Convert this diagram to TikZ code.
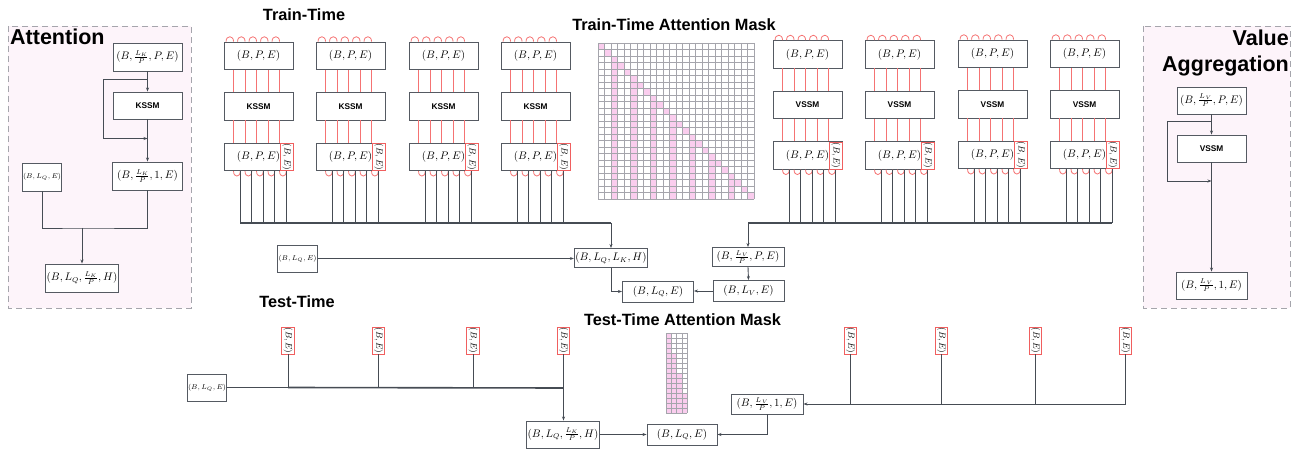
\documentclass[tikz,border=0pt]{standalone}
\usepackage{fontspec}
\usepackage{graphicx}
\newfontfamily\hfont{Liberation Sans}
\usetikzlibrary{arrows.meta,calc}
\definecolor{boxc}{RGB}{85,90,98}
\definecolor{connc}{RGB}{70,76,84}
\definecolor{redlc}{RGB}{245,115,115}
\definecolor{redbc}{RGB}{240,95,95}
\definecolor{pinkc}{RGB}{250,205,238}
\definecolor{gridc}{RGB}{165,165,172}
\definecolor{panelc}{RGB}{253,244,250}
\definecolor{dashc}{RGB}{165,165,172}
\newcommand{\LVfrac}{\frac{L_{\mkern2mu V}}{P}}
\begin{document}
\begin{tikzpicture}[x=1pt,y=-1pt,
  box/.style={draw=boxc, line width=0.9pt, fill=white, inner sep=1pt, font=\fontsize{10.6}{12}\selectfont},
  smallbox/.style={box, font=\fontsize{7}{8}\selectfont},
  ssm/.style={box, font=\hfont\bfseries\fontsize{8.3}{10}\selectfont},
  redbox/.style={draw=redbc, line width=0.8pt, fill=white, inner sep=0pt, minimum width=12.5pt, minimum height=27pt},
  conn/.style={draw=connc, line width=0.9pt},
  arr/.style={conn, -{Stealth[length=4pt,width=3pt]}},
  bus/.style={draw=connc, line width=1.6pt},
  redl/.style={draw=redlc, line width=0.8pt},
  title/.style={font=\hfont\bfseries\fontsize{16.3}{19}\selectfont, inner sep=0pt},
  ptitle/.style={font=\hfont\bfseries\fontsize{21.5}{25}\selectfont, inner sep=0pt},
  panel/.style={draw=dashc, fill=panelc, line width=0.9pt, dash pattern=on 6pt off 4pt}
]
\useasboundingbox (0,0) rectangle (1299,449);

% ---------- panels ----------
\draw[panel] (8,26) rectangle (191,308);
\draw[panel] (1143,26) rectangle (1290,308);
\node[ptitle, anchor=base west] (attT) at (10,45) {Attention};
\node[ptitle, anchor=base east] (valT) at (1289,46) {Value};
\node[ptitle, anchor=base east] (aggT) at (1289,71.5) {Aggregation};

% ---------- Attention panel ----------
\node[box, minimum width=69pt, minimum height=28pt] (a1) at (147.5,57) {$(B,\frac{L_K}{P},P,E)$};
\node[ssm, minimum width=69pt, minimum height=27pt] (a2) at (147.5,105.5) {KSSM};
\node[box, minimum width=70pt, minimum height=28pt] (a3) at (147.5,176) {$(B,\frac{L_K}{P},1,E)$};
\node[smallbox, minimum width=38pt, minimum height=28pt] (a4) at (42,177) {$(B,L_Q,E)$};
\node[box, minimum width=70pt, minimum height=28pt] (a5) at (82,278) {$(B,L_Q,\frac{L_K}{P},H)$};
\draw[arr] (a1.south) -- (a2.north);
\coordinate (as1) at (147.5,79.5);
\coordinate (as2) at (147.5,138.5);
\draw[arr] (as1) -- ++(-44,0) |- (as2);
\draw[arr] (a2.south) -- (a3.north);
\coordinate (am) at (82,228);
\draw[conn] (a4.south) |- (am) -| (a3.south);
\draw[arr] (am) -- (a5.north);

% ---------- Value aggregation panel ----------
\node[box, minimum width=69pt, minimum height=27pt] (v1) at (1211.5,100.5) {$(B,\LVfrac,P,E)$};
\node[ssm, minimum width=69pt, minimum height=27pt] (v2) at (1211.5,148.5) {VSSM};
\node[box, minimum width=71pt, minimum height=27pt] (v3) at (1211.5,285.5) {$(B,\LVfrac,1,E)$};
\draw[arr] (v1.south) -- (v2.north);
\coordinate (vs1) at (1211.5,121.5);
\coordinate (vs2) at (1211.5,181);
\draw[arr] (vs1) -- ++(-44.5,0) |- (vs2);
\draw[arr] (v2.south) -- (v3.north);

% ---------- titles ----------
\node[title, anchor=base] (trT) at (304,20.5) {Train-Time};
\node[title, anchor=base] (trM) at (674,30.5) {Train-Time Attention Mask};
\node[title, anchor=base] (teT) at (297,307.5) {Test-Time};
\node[title, anchor=base] (teM) at (682.5,325) {Test-Time Attention Mask};

% ---------- train columns ----------
\coordinate (busL) at (611,223);
\foreach \i/\x/\dy/\lab in {1/224/0/KSSM, 2/316/0/KSSM, 3/409/0/KSSM, 4/501/0/KSSM, 5/773/-1.5/VSSM, 6/865/-1.5/VSSM, 7/958/-2/VSSM, 8/1050/-2/VSSM} {
  \node[box, minimum width=69pt, minimum height=27.5pt] (t\i) at (\x+34.5,55.8+\dy) {$(B,P,E)$};
  \node[ssm, minimum width=69pt, minimum height=27.5pt] (m\i) at (\x+34.5,106.3+\dy) {\lab};
  \node[box, minimum width=69pt, minimum height=27.5pt] (b\i) at (\x+34.5,157+\dy) {$(B,P,E)$};
  \node[redbox, anchor=east] (r\i) at (b\i.east) {\rotatebox{-90}{\fontsize{9.2}{10}\selectfont$(B,E)$}};
  \foreach \k in {0,...,4} {
    \pgfmathsetmacro\o{10+11.5*\k}
    \draw[redl] ([xshift=\o pt]t\i.south west) -- ([xshift=\o pt]m\i.north west);
    \draw[redl] ([xshift=\o pt]m\i.south west) -- ([xshift=\o pt]b\i.north west);
    \draw[redl] ([xshift=\o pt-7.5pt]t\i.north west) .. controls +(0pt,6.5pt) and +(0pt,6.5pt) .. ([xshift=\o pt]t\i.north west);
    \draw[redl] ([xshift=\o pt]b\i.south west) .. controls +(0pt,-6.5pt) and +(0pt,-6.5pt) .. ([xshift=\o pt+6.7pt]b\i.south west);
    \coordinate (d\i-\k) at ([xshift=\o pt+6.7pt]b\i.south west);
    \draw[conn] (d\i-\k) -- (d\i-\k |- busL);
  }
}

% ---------- middle train nodes ----------
\node[smallbox, minimum width=39pt, minimum height=27pt] (lq) at (297.5,258.5) {$(B,L_Q,E)$};
\node[box, minimum width=72pt, minimum height=19pt] (kh) at (611,258) {$(B,L_Q,L_K,H)$};
\node[box, minimum width=71pt, minimum height=21pt] (lqe) at (658,291.5) {$(B,L_Q,E)$};
\node[box, minimum width=72pt, minimum height=19pt] (vpe) at (748,257) {$(B,\LVfrac,P,E)$};
\node[box, minimum width=71pt, minimum height=21pt] (lve) at (748.5,291) {$(B,L_V,E)$};

\draw[bus] (d1-0 |- busL) -- (busL);
\draw[arr] (busL) -- (kh.north);
\draw[bus] (vpe.north |- busL) -- (d8-4 |- busL);
\draw[arr] (vpe.north |- busL) -- (vpe.north);
\draw[arr] (lq.east) -- (lq.east -| kh.west);
\draw[arr] (kh.south) |- (lqe.west);
\draw[arr] (vpe.south) -- (lve.north);
\draw[arr] (lve.west) -- (lve.west -| lqe.east);

% ---------- train mask ----------
\foreach \r in {0,...,23} \fill[pinkc] (598+\r*6.5,43+\r*6.5) rectangle ++(6.5,6.5);
\foreach \c in {2,5,...,20} \fill[pinkc] (598+\c*6.5,43+\c*6.5) rectangle (604.5+\c*6.5,199);
\foreach \k in {0,...,24} {
  \draw[gridc, line width=0.45pt] (598+\k*6.5,43) -- (598+\k*6.5,199);
  \draw[gridc, line width=0.45pt] (598,43+\k*6.5) -- (754,43+\k*6.5);
}

% ---------- test mask ----------
\fill[pinkc] (666,333) rectangle (671.25,413);
\foreach \c in {1,2,3} \fill[pinkc] (666+\c*5.25,333+\c*20) rectangle (671.25+\c*5.25,413);
\foreach \k in {0,...,4} \draw[gridc, line width=0.45pt] (666+\k*5.25,333) -- (666+\k*5.25,413);
\foreach \k in {0,...,16} \draw[gridc, line width=0.45pt] (666,333+\k*5) -- (687,333+\k*5);

% ---------- test nodes ----------
\node[smallbox, minimum width=38pt, minimum height=27pt] (tl) at (207,387.5) {$(B,L_Q,E)$};
\node[box, minimum width=70pt, minimum height=27pt] (tkh) at (563,434.5) {$(B,L_Q,\frac{L_K}{P},H)$};
\node[box, minimum width=70pt, minimum height=21pt] (tqe) at (682,434.5) {$(B,L_Q,E)$};
\node[box, minimum width=72pt, minimum height=20pt] (tvp) at (767,404) {$(B,\LVfrac,1,E)$};
\foreach \j/\x in {1/288, 2/378.5, 3/473, 4/563.5} {
  \node[redbox] (tr\j) at (\x,340.5) {\rotatebox{-90}{\fontsize{9.2}{10}\selectfont$(B,E)$}};
}
\foreach \j/\x in {1/850.5, 2/941.5, 3/1035.5, 4/1125.5} {
  \node[redbox] (trr\j) at (\x,340.5) {\rotatebox{-90}{\fontsize{9.2}{10}\selectfont$(B,E)$}};
}
\coordinate (tbus) at (563.5,388);
\draw[conn] (tl.east) -- (tl.east -| tr1.south);
\draw[bus] (tl.east -| tr1.south) -- (tbus);
\foreach \j in {1,2,3} \draw[conn] (tr\j.south) -- (tr\j.south |- tbus);
\draw[conn] (tr4.south) -- (tbus);
\draw[arr] (tbus) -- (tbus |- tkh.north);
\draw[arr] (trr4.south) |- (tvp.east);
\foreach \j in {1,2,3} \draw[conn] (trr\j.south) -- (trr\j.south |- tvp.east);
\draw[arr] (tvp.south) |- (tqe.east);
\draw[arr] (tkh.east) -- (tqe.west);
\end{tikzpicture}
\end{document}
